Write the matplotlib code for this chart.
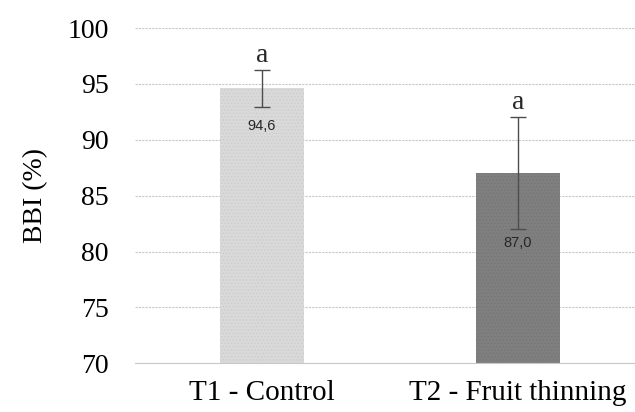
import numpy as np
import matplotlib
matplotlib.use('Agg')
import matplotlib.pyplot as plt

# data
categories = ['T1 - Control', 'T2 - Fruit thinning']
bbi = [94.6, 87.0]
err = [1.65, 5.0]
letters = ['a', 'a']
value_labels = ['94,6', '87,0']
bar_colors = ['#d9d9d9', '#7f7f7f']
hatch_colors = ['#c8c8c8', '#737373']

plt.rcParams['font.family'] = ['Liberation Serif', 'DejaVu Serif']
plt.rcParams['hatch.linewidth'] = 0.4

fig = plt.figure(figsize=(6.35, 4.12), dpi=100)
ax = fig.add_axes([0.2126, 0.118, 0.7874, 0.814])

x = np.arange(len(categories))
ax.set_axisbelow(True)
ax.yaxis.grid(True, color='#c8c8c8', linestyle=(0, (2, 1)), linewidth=0.8)

for i in range(len(x)):
    ax.bar(x[i], bbi[i] - 70, bottom=70, width=0.33, color=bar_colors[i],
           edgecolor=hatch_colors[i], hatch='.....', linewidth=0)
ax.errorbar(x, bbi, yerr=err, fmt='none', ecolor='#4d4d4d', elinewidth=1.0,
            capsize=5.8, capthick=1.0)

# offsets below the lower error cap for the value labels
label_gap = [1.7, 1.2]
for i in range(len(x)):
    ax.text(x[i], bbi[i] + err[i] + 0.2, letters[i], ha='center', va='bottom',
            fontsize=20, color='#262626')
    ax.text(x[i], bbi[i] - err[i] - label_gap[i], value_labels[i],
            ha='center', va='center', fontsize=10.5, color='#262626',
            family=['Liberation Sans', 'DejaVu Sans'])

ax.set_ylim(70, 100)
ax.set_yticks(np.arange(70, 101, 5))
ax.set_xlim(-0.496, 1.457)
ax.set_xticks(x)
ax.set_xticklabels(categories, fontsize=21)
ax.tick_params(axis='x', length=0, pad=12)
ax.tick_params(axis='y', labelsize=20, length=0, pad=19)
ax.set_ylabel('BBI (%)', fontsize=20, labelpad=14)

for s in ['top', 'right', 'left']:
    ax.spines[s].set_visible(False)
ax.spines['bottom'].set_color('#c8c8c8')
ax.spines['bottom'].set_linestyle((0, (2, 1)))

fig.savefig('out.png', dpi=100)
